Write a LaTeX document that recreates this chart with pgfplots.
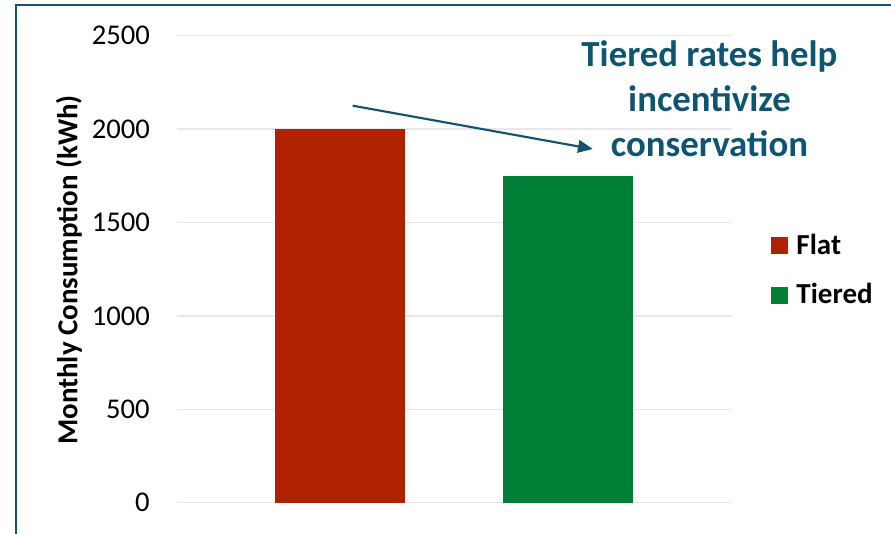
\documentclass[border=0pt]{standalone}
\usepackage{fontspec}
\setmainfont{Carlito}
\usepackage{pgfplots}
\pgfplotsset{compat=1.18}
\usetikzlibrary{arrows.meta}
\definecolor{annot}{RGB}{16,84,112}
\definecolor{flatred}{RGB}{174,34,0}
\definecolor{tiergreen}{RGB}{0,127,55}
\definecolor{gridgray}{RGB}{232,232,232}
\begin{document}
\begin{tikzpicture}[x=0.75pt,y=0.75pt]
\useasboundingbox (0,0) rectangle (891,534);
\begin{axis}[
  at={(132.75pt,23.475pt)}, anchor=south west,
  width=416.25pt, height=350.25pt, scale only axis,
  xmin=177, xmax=732, ymin=0, ymax=2500,
  ytick={0,500,...,2500}, xtick=\empty,
  ymajorgrids, grid style={gridgray, line width=1.1pt},
  axis line style={draw=none}, major tick length=0pt,
  /pgf/number format/assume math mode=true,
  /pgf/number format/set thousands separator={},
  yticklabel style={font=\fontsize{21.45}{24}\selectfont, anchor=east, inner sep=0pt, xshift=-20.25pt},
  legend cell align=left,
  legend style={at={(1.0703,0.5765)}, anchor=north west, draw=none, fill=none,
    inner sep=0pt, row sep=20.4pt,
    font=\bfseries\fontsize{21.75}{26}\selectfont,
    nodes={inner sep=0pt}},
  legend image code/.code={\fill[#1] (0pt,-6.8pt) rectangle (12.75pt,5.95pt); \path (18.9pt,0pt);},
]
\addplot[ybar, bar width=130, bar shift=0pt, fill=flatred, draw=none] coordinates {(340,2000)};
\addlegendentry{Flat}
\addplot[ybar, bar width=130, bar shift=0pt, fill=tiergreen, draw=none] coordinates {(567.7,1750)};
\addlegendentry{Tiered}
\end{axis}
\node[rotate=90, font=\bfseries\fontsize{21.7}{26}\selectfont] at (69,264) {Monthly Consumption (kWh)};
\node[anchor=base, text=annot, font=\bfseries\fontsize{27.6}{33}\selectfont] at (709.5,467) {Tiered rates help};
\node[anchor=base, text=annot, font=\bfseries\fontsize{27.6}{33}\selectfont] at (709.5,422) {incentivize};
\node[anchor=base, text=annot, font=\bfseries\fontsize{27.6}{33}\selectfont] at (709.5,377) {conservation};
\draw[annot, line width=1.6pt, -{Triangle[length=11pt, width=9.5pt]}] (352.7,428.3) -- (592.7,385);
\draw[annot, line width=1.6pt] (16,-10) -- (16,529) -- (900,529);
\end{tikzpicture}
\end{document}
